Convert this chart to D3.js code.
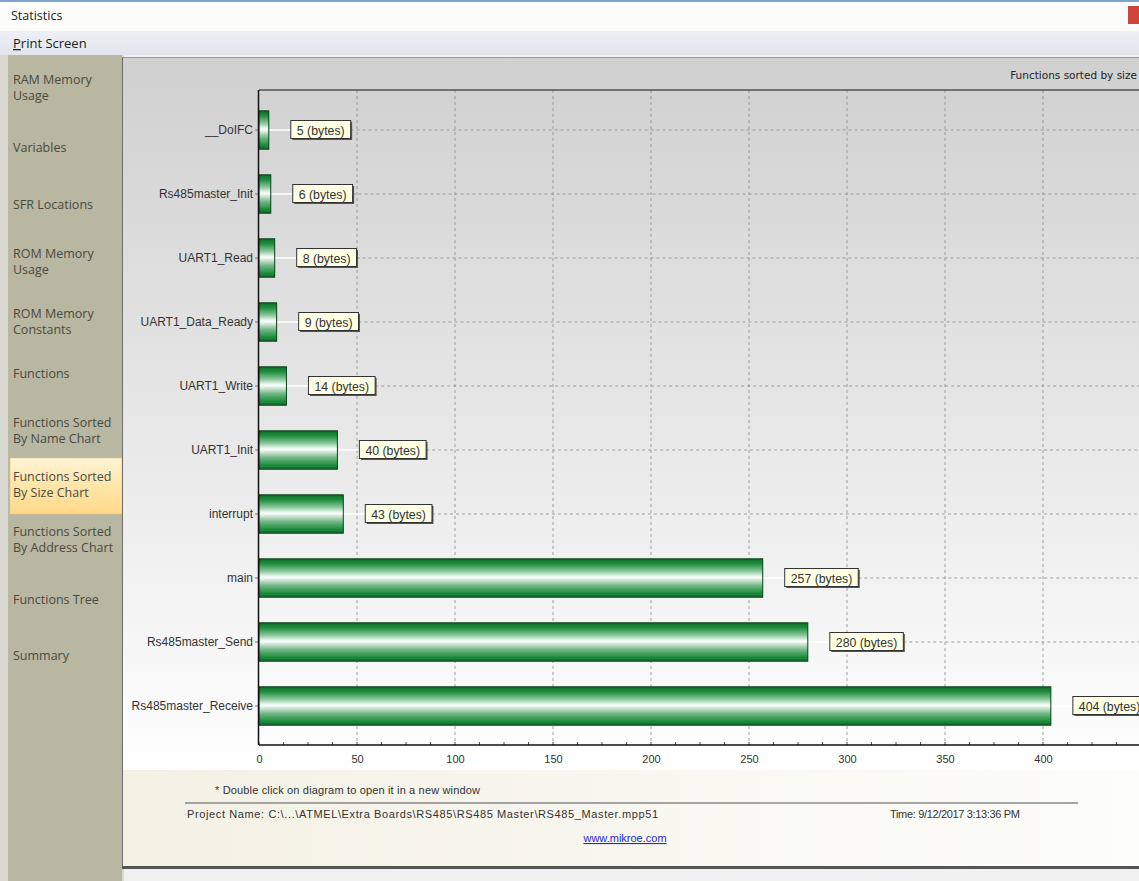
<!DOCTYPE html>
<html>
<head>
<meta charset="utf-8">
<script src="https://cdn.jsdelivr.net/npm/d3@7"></script>
<style>
  body { margin: 0; background: #f0f0f0; }
  svg { display: block; font-family: "DejaVu Sans", sans-serif; }
</style>
</head>
<body>
<svg id="c" width="1139" height="881"></svg>
<script>
// data
var functionNames = ["__DoIFC", "Rs485master_Init", "UART1_Read", "UART1_Data_Ready", "UART1_Write",
                     "UART1_Init", "interrupt", "main", "Rs485master_Send", "Rs485master_Receive"];
var functionSizes = [5, 6, 8, 9, 14, 40, 43, 257, 280, 404];
var xTicks = [0, 50, 100, 150, 200, 250, 300, 350, 400];
var menuItems = [
  ["RAM Memory", "Usage"], ["Variables"], ["SFR Locations"], ["ROM Memory", "Usage"],
  ["ROM Memory", "Constants"], ["Functions"], ["Functions Sorted", "By Name Chart"],
  ["Functions Sorted", "By Size Chart"], ["Functions Sorted", "By Address Chart"],
  ["Functions Tree"], ["Summary"]
];

var svg = d3.select("#c");
var W = 1139, H = 881;
var defs = svg.append("defs");

function grad(id, stops, horiz) {
  var g = defs.append("linearGradient").attr("id", id)
    .attr("x1", 0).attr("y1", 0).attr("x2", horiz ? 1 : 0).attr("y2", horiz ? 0 : 1);
  stops.forEach(function(s) { g.append("stop").attr("offset", s[0]).attr("stop-color", s[1]); });
}
grad("barG", [[0, "#0a6f26"], [0.12, "#1f8a3e"], [0.3, "#79c08e"], [0.48, "#ffffff"], [0.7, "#6fb985"], [0.9, "#1c8a3c"], [1, "#0c7029"]]);
grad("panelG", [[0, "#d0d0d0"], [0.55, "#e9e9e9"], [1, "#ffffff"]]);
grad("footG", [[0, "#f3f1e4"], [1, "#fdfdfb"]], true);
grad("selG", [[0, "#fff4d6"], [0.5, "#ffe6a8"], [1, "#ffd98a"]]);
grad("menuG", [[0, "#eef0f5"], [1, "#e1e4ec"]]);

// window chrome
svg.append("rect").attr("width", W).attr("height", H).attr("fill", "#f0f0f0");
svg.append("rect").attr("width", W).attr("height", 31).attr("fill", "#fcfcfa");
svg.append("rect").attr("width", W).attr("height", 2).attr("fill", "#7ea6cf");
svg.append("text").attr("x", 11).attr("y", 20).attr("font-size", 12.5).attr("fill", "#222")
  .attr("font-family", "Open Sans, sans-serif").text("Statistics");
svg.append("rect").attr("x", 1128).attr("y", 6).attr("width", 11).attr("height", 18).attr("fill", "#d0453a");
svg.append("rect").attr("y", 31).attr("width", W).attr("height", 24).attr("fill", "url(#menuG)");
var ps = svg.append("text").attr("x", 13).attr("y", 48).attr("font-size", 13).attr("fill", "#222")
  .attr("font-family", "Open Sans, sans-serif");
ps.append("tspan").attr("text-decoration", "underline").text("P");
ps.append("tspan").text("rint Screen");

// sidebar
svg.append("rect").attr("x", 0).attr("y", 55).attr("width", 124).attr("height", 826).attr("fill", "#d9d9d2");
svg.append("rect").attr("x", 8).attr("y", 55).attr("width", 114).attr("height", 826).attr("fill", "#b8b7a1");
var itemY = [88, 148, 205, 262, 322, 374, 431, 485, 540, 600, 656];
svg.append("rect").attr("x", 10).attr("y", 458).attr("width", 112).attr("height", 56)
  .attr("fill", "url(#selG)").attr("stroke", "#e7c27a").attr("stroke-width", 0.6);
menuItems.forEach(function(lines, i) {
  var t = svg.append("text").attr("x", 13).attr("font-size", 12.5).attr("fill", "#4a4a40")
    .attr("font-family", "Open Sans, sans-serif");
  var y0 = itemY[i] - (lines.length - 1) * 8 + 4;
  lines.forEach(function(l, j) {
    t.append("tspan").attr("x", 13).attr("y", y0 + j * 16).text(l);
  });
});

// main panel
svg.append("rect").attr("x", 122).attr("y", 57).attr("width", W - 122).attr("height", 714).attr("fill", "url(#panelG)");
svg.append("rect").attr("x", 122).attr("y", 770).attr("width", W - 122).attr("height", 96).attr("fill", "url(#footG)");
svg.append("line").attr("x1", 122).attr("x2", W).attr("y1", 57.5).attr("y2", 57.5).attr("stroke", "#9a9a9a");
svg.append("line").attr("x1", 122.5).attr("x2", 122.5).attr("y1", 57).attr("y2", 867).attr("stroke", "#6d6d6d");
svg.append("rect").attr("x", 122).attr("y", 866).attr("width", W - 122).attr("height", 3).attr("fill", "#555");

svg.append("text").attr("x", 1137).attr("y", 79).attr("text-anchor", "end").attr("font-size", 10.5)
  .attr("fill", "#222").text("Functions sorted by size");

// plot
var plotTop = 90, plotBottom = 745, plotLeft = 259;
var x = d3.scaleLinear().domain([0, 450]).range([plotLeft, plotLeft + 450 * 1.96]);
var y = d3.scaleBand().domain(functionNames).range([98, 738]).paddingInner(0.4).paddingOuter(0.2);
var labelFont = "Liberation Sans, Arial, sans-serif";

var g = svg.append("g");

// vertical dashed grid
g.selectAll(".vg").data(xTicks.slice(1).concat([450])).join("line")
  .attr("x1", function(d) { return x(d); }).attr("x2", function(d) { return x(d); })
  .attr("y1", plotTop).attr("y2", plotBottom)
  .attr("stroke", "#8c8c8c").attr("stroke-dasharray", "3,3").attr("stroke-width", 0.8);

var cy = function(d, i) { return y(functionNames[i]) + y.bandwidth() / 2; };

// white connector from bar end to label
g.selectAll(".wl").data(functionSizes).join("line")
  .attr("x1", function(d) { return x(d); }).attr("x2", function(d) { return x(d) + 22; })
  .attr("y1", cy).attr("y2", cy).attr("stroke", "#ffffff").attr("stroke-width", 1.5);

// bars
g.selectAll(".bar").data(functionSizes).join("rect")
  .attr("x", x(0)).attr("y", function(d, i) { return y(functionNames[i]); })
  .attr("width", function(d) { return x(d) - x(0); }).attr("height", y.bandwidth())
  .attr("fill", "url(#barG)").attr("stroke", "#0a3d16").attr("stroke-width", 1);

// value labels with dashed line continuing to the right
var lab = g.selectAll(".lab").data(functionSizes).join("g")
  .attr("transform", function(d, i) { return "translate(" + (x(d) + 22) + "," + cy(d, i) + ")"; });
lab.each(function(d) {
  var s = d3.select(this);
  var t = s.append("text").attr("x", 6).attr("y", 4.5).attr("font-size", 12.3).attr("fill", "#333")
    .attr("font-family", labelFont).text(d + " (bytes)");
  var w = t.node().getComputedTextLength() + 12;
  s.insert("line", "text").attr("x1", w).attr("x2", W - x(d) - 22).attr("y1", 0).attr("y2", 0)
    .attr("stroke", "#8c8c8c").attr("stroke-dasharray", "3,3").attr("stroke-width", 0.8);
  s.insert("rect", "text").attr("x", 1.5).attr("y", -8).attr("width", w).attr("height", 18).attr("fill", "#555");
  s.insert("rect", "text").attr("x", 0).attr("y", -9.5).attr("width", w).attr("height", 18)
    .attr("fill", "#ffffe3").attr("stroke", "#333").attr("stroke-width", 1);
});

// frame top
g.append("line").attr("x1", plotLeft).attr("x2", W).attr("y1", plotTop).attr("y2", plotTop)
  .attr("stroke", "#111").attr("stroke-width", 1.2);

// x axis
var xAxis = d3.axisBottom(x).tickValues(xTicks).tickSize(0).tickPadding(10);
var ax = g.append("g").attr("transform", "translate(0," + plotBottom + ")").call(xAxis);
ax.select(".domain").remove();
ax.selectAll("text").attr("font-size", 11).attr("fill", "#333").attr("font-family", labelFont);
var minor = d3.range(0, 450, 12.5);
g.selectAll(".mt").data(minor).join("line")
  .attr("x1", function(d) { return x(d); }).attr("x2", function(d) { return x(d); })
  .attr("y1", plotBottom).attr("y2", plotBottom - 3).attr("stroke", "#555");
g.append("line").attr("x1", plotLeft).attr("x2", W).attr("y1", plotBottom).attr("y2", plotBottom)
  .attr("stroke", "#111").attr("stroke-width", 1.5);

// y axis
var yAxis = d3.axisLeft(y).tickSize(4).tickPadding(2);
var ay = g.append("g").attr("transform", "translate(" + plotLeft + ",0)").call(yAxis);
ay.select(".domain").remove();
ay.selectAll(".tick line").attr("stroke", "#777");
ay.selectAll("text").attr("font-size", 12).attr("fill", "#333").attr("font-family", labelFont);
g.append("line").attr("x1", plotLeft - 0.5).attr("x2", plotLeft - 0.5).attr("y1", plotTop).attr("y2", plotBottom)
  .attr("stroke", "#111").attr("stroke-width", 1.5);

// footer
var ft = "Liberation Sans, sans-serif";
svg.append("text").attr("x", 215).attr("y", 794).attr("font-size", 11).attr("fill", "#333")
  .attr("font-family", ft).attr("textLength", 265).text("* Double click on diagram to open it in a new window");
svg.append("line").attr("x1", 185).attr("x2", 1078).attr("y1", 803).attr("y2", 803).attr("stroke", "#888").attr("stroke-width", 1.5);
svg.append("text").attr("x", 187).attr("y", 818).attr("font-size", 11).attr("fill", "#333")
  .attr("font-family", ft).attr("textLength", 471)
  .text("Project Name: C:\\...\\ATMEL\\Extra Boards\\RS485\\RS485 Master\\RS485_Master.mpp51");
svg.append("text").attr("x", 890).attr("y", 818).attr("font-size", 11).attr("fill", "#333")
  .attr("font-family", ft).attr("textLength", 130).text("Time: 9/12/2017 3:13:36 PM");
svg.append("text").attr("x", 625).attr("y", 842).attr("text-anchor", "middle").attr("font-size", 11)
  .attr("fill", "#2a2ad0").attr("text-decoration", "underline").attr("font-family", ft).text("www.mikroe.com");
</script>
</body>
</html>
